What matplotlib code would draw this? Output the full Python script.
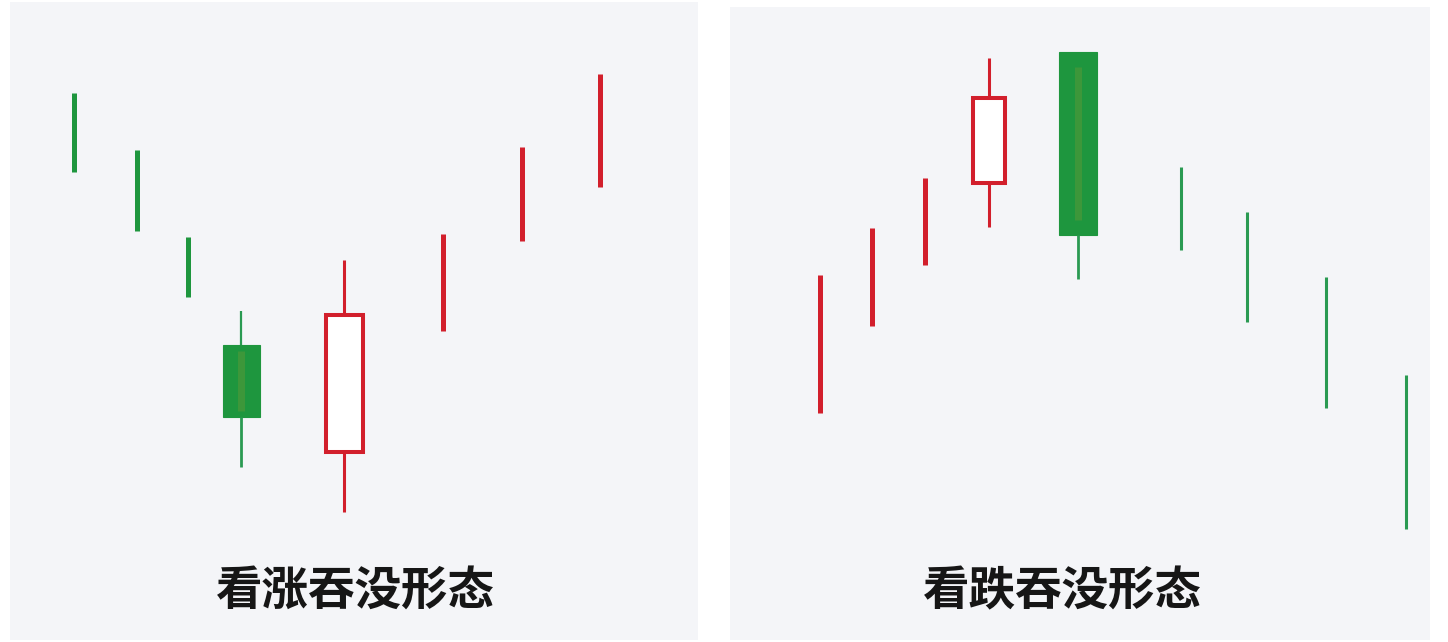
import matplotlib.pyplot as plt
from matplotlib.patches import Rectangle

plt.rcParams['font.family'] = ['Noto Sans CJK SC', 'DejaVu Sans']

# bullish engulfing (left panel)
bullX = [6.4, 12.7, 17.8, 23.1, 33.4, 43.3, 51.2, 59.0]
bullOpen = [54.7, 49.0, 40.3, 29.5, 18.8, 30.9, 39.9, 45.3]
bullHigh = [54.7, 49.0, 40.3, 32.9, 38.0, 40.6, 49.3, 56.6]
bullLow = [46.8, 40.9, 34.3, 17.3, 12.8, 30.9, 39.9, 45.3]
bullClose = [46.8, 40.9, 34.3, 22.3, 32.5, 40.6, 49.3, 56.6]
bullTitle = '看涨吞没形态'

# bearish engulfing (right panel)
bearX = [9.0, 14.2, 19.5, 25.9, 34.8, 45.1, 51.7, 59.6, 67.6]
bearOpen = [22.7, 31.4, 37.5, 45.7, 58.8, 47.3, 42.8, 36.3, 26.5]
bearHigh = [36.5, 41.2, 46.2, 58.2, 58.8, 47.3, 42.8, 36.3, 26.5]
bearLow = [22.7, 31.4, 37.5, 41.3, 36.1, 39.0, 31.8, 23.2, 11.1]
bearClose = [36.5, 41.2, 46.2, 54.2, 40.5, 39.0, 31.8, 23.2, 11.1]
bearTitle = '看跌吞没形态'

RED = '#d21f2c'
GREEN = '#1e963e'
GREEN_LINE = '#2a9a52'
STRIPE = '#46983a'
BG = '#f4f5f8'


def drawCandles(ax, xs, opens, highs, lows, closes, upLw, downLw, downColor, bodyWidths):
    """
    Draws candles. A candle whose body covers the whole range is drawn as a thick line,
    rising candles are hollow red boxes, falling candles are filled green boxes.
    """
    for i, x in enumerate(xs):
        o, h, l, c = opens[i], highs[i], lows[i], closes[i]
        up = c >= o
        top, bottom = max(o, c), min(o, c)
        if top == h and bottom == l:
            color = RED if up else downColor
            ax.vlines(x, l, h, color=color, linewidth=upLw if up else downLw, capstyle='butt')
            continue
        w = bodyWidths[i]
        if up:
            ax.vlines(x, top, h, color=RED, linewidth=2.2)
            ax.vlines(x, l, bottom, color=RED, linewidth=2.2)
            ax.add_patch(Rectangle((x - w/2, bottom), w, top - bottom, facecolor='white', edgecolor=RED, linewidth=2.9))
        else:
            if h > top:
                ax.vlines(x, top, h, color=GREEN_LINE, linewidth=1.6)
            ax.vlines(x, l, bottom, color=GREEN_LINE, linewidth=2.0)
            ax.add_patch(Rectangle((x - w/2, bottom), w, top - bottom, facecolor=GREEN, edgecolor=GREEN, linewidth=0.8))
            inset = (top - bottom) * 0.08
            ax.vlines(x, bottom + inset, top - inset, color=STRIPE, linewidth=5.0, alpha=0.8)


fig = plt.figure(figsize=(14.48, 6.42), dpi=100)
fig.patch.set_facecolor('white')

axL = fig.add_axes([10/1448, 2/642, 688/1448, 638/642])
axR = fig.add_axes([730/1448, 2/642, 700/1448, 633/642])

for ax in (axL, axR):
    ax.set_facecolor(BG)
    for s in ax.spines.values():
        s.set_visible(False)
    ax.set_xticks([])
    ax.set_yticks([])

axL.set_xlim(0, 68.8)
axL.set_ylim(0, 63.8)
axR.set_xlim(0, 70.0)
axR.set_ylim(0, 63.3)

drawCandles(axL, bullX, bullOpen, bullHigh, bullLow, bullClose, 3.6, 3.6, GREEN,
            [0, 0, 0, 3.7, 3.7, 0, 0, 0])
drawCandles(axR, bearX, bearOpen, bearHigh, bearLow, bearClose, 3.6, 2.2, GREEN_LINE,
            [0, 0, 0, 3.2, 3.8, 0, 0, 0, 0])

fig.text(355/1448, 1 - 591/642, bullTitle, ha='center', va='center', fontsize=33.5, fontweight='bold', color='#161616')
fig.text(1062/1448, 1 - 591/642, bearTitle, ha='center', va='center', fontsize=33.5, fontweight='bold', color='#161616')

plt.savefig('out.png', dpi=100, facecolor='white')
